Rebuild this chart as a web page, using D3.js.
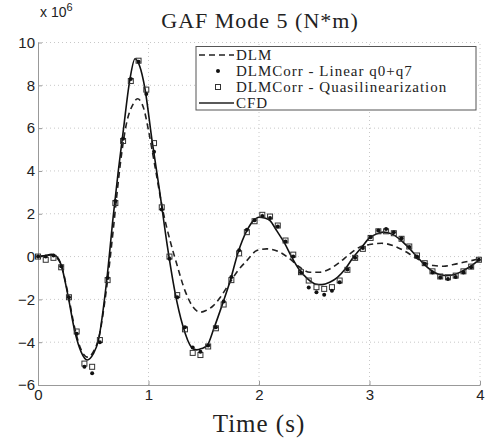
<!DOCTYPE html>
<html>
<head>
<meta charset="utf-8">
<script src="https://cdn.jsdelivr.net/npm/d3@7"></script>
<style>
  html, body { margin: 0; padding: 0; background: #fff; }
  svg { display: block; }
  .tick text { font-family: "Liberation Sans", Arial, sans-serif; font-size: 15px; fill: #222; }
  .serif { font-family: "Liberation Serif", "DejaVu Serif", serif; fill: #222; }
</style>
</head>
<body>
<svg id="chart" width="487" height="441"></svg>
<script>
// CFD reference (time s, moment 1e6 N*m)
const cfdT = [0, 0.07, 0.12, 0.17, 0.21, 0.27, 0.335, 0.39, 0.446, 0.5, 0.546, 0.62, 0.68, 0.727, 0.77, 0.83, 0.878, 0.92, 0.968, 1.03,
  1.10, 1.17, 1.24, 1.31, 1.39, 1.435, 1.48, 1.53, 1.59, 1.67, 1.74, 1.81, 1.89, 1.95, 2.0, 2.05, 2.1, 2.16, 2.235, 2.296,
  2.365, 2.44, 2.51, 2.57, 2.64, 2.71, 2.78, 2.85, 2.93, 3.0, 3.065, 3.125, 3.2, 3.28, 3.35, 3.42, 3.49, 3.56, 3.63, 3.70,
  3.77, 3.85, 3.91, 4.0];
const cfdV = [0, 0.05, 0.1, 0.0, -0.4, -1.79, -3.54, -4.45, -4.83, -4.55, -3.93, -1.2, 1.84, 4.02, 5.8, 8.22, 9.24, 8.9, 7.84, 5.5,
  3.08, 0.51, -1.67, -3.22, -4.24, -4.36, -4.3, -4.16, -3.38, -2.21, -1.12, 0.18, 1.21, 1.68, 1.84, 1.80, 1.68, 1.21, 0.59, -0.03,
  -0.62, -1.04, -1.28, -1.31, -1.2, -0.97, -0.58, -0.06, 0.44, 0.87, 1.06, 1.14, 1.06, 0.78, 0.44, 0.05, -0.34, -0.65, -0.84, -0.89,
  -0.84, -0.65, -0.47, -0.12];

// DLM
const dlmT = [0, 0.07, 0.12, 0.17, 0.21, 0.27, 0.335, 0.39, 0.45, 0.5, 0.55, 0.62, 0.68, 0.712, 0.742, 0.8, 0.862, 0.9, 0.953, 1.0,
  1.06, 1.13, 1.195, 1.255, 1.33, 1.405, 1.466, 1.52, 1.587, 1.65, 1.72, 1.81, 1.89, 1.98, 2.07, 2.19, 2.28, 2.37, 2.46, 2.55,
  2.64, 2.73, 2.82, 2.91, 3.0, 3.11, 3.215, 3.31, 3.4, 3.49, 3.58, 3.67, 3.76, 3.85, 4.0];
const dlmV = [0, 0.05, 0.08, -0.05, -0.4, -1.7, -3.4, -4.35, -4.7, -4.45, -3.8, -1.5, 1.2, 2.8, 4.2, 6.2, 7.13, 7.37, 6.98, 5.89,
  4.17, 2.15, 0.75, -0.34, -1.59, -2.37, -2.6, -2.52, -2.29, -1.9, -1.35, -0.65, -0.19, 0.28, 0.36, 0.2, -0.11, -0.5, -0.73, -0.73,
  -0.58, -0.27, 0.12, 0.44, 0.56, 0.62, 0.51, 0.28, 0.0, -0.27, -0.42, -0.45, -0.37, -0.27, -0.1];

// corrected DLM samples, every 0.07 s
const sampleT = [0, 0.07, 0.14, 0.21, 0.28, 0.35, 0.42, 0.49, 0.56, 0.63, 0.70, 0.77, 0.84, 0.91, 0.98, 1.05, 1.12, 1.19, 1.26, 1.33,
  1.40, 1.47, 1.54, 1.61, 1.68, 1.75, 1.82, 1.89, 1.96, 2.03, 2.10, 2.17, 2.24, 2.31, 2.38, 2.45, 2.52, 2.59, 2.66, 2.73,
  2.80, 2.87, 2.94, 3.01, 3.08, 3.15, 3.22, 3.29, 3.36, 3.43, 3.50, 3.57, 3.64, 3.71, 3.78, 3.85, 3.92, 3.99];
const linearV = [0, 0.0, 0.05, -0.45, -1.9, -3.6, -5.15, -5.45, -4.0, -1.0, 2.6, 5.5, 8.3, 9.1, 7.6, 4.9, 2.2, -0.1, -1.9, -3.3,
  -4.25, -4.45, -4.15, -3.3, -2.1, -0.95, 0.3, 1.25, 1.7, 1.9, 1.8, 1.4, 0.7, 0.0, -0.75, -1.45, -1.67, -1.78, -1.6, -1.2,
  -0.6, -0.05, 0.4, 0.9, 1.22, 1.29, 1.14, 0.85, 0.45, 0.0, -0.35, -0.75, -0.98, -1.05, -0.95, -0.75, -0.5, -0.15];
const quasiV = [0, -0.15, -0.06, -0.5, -1.9, -3.5, -5.0, -5.15, -3.9, -1.1, 2.5, 5.4, 8.2, 9.15, 7.8, 5.3, 2.3, 0.0, -1.8, -3.4,
  -4.5, -4.6, -4.2, -3.35, -2.24, -1.1, 0.15, 1.14, 1.65, 1.95, 1.87, 1.45, 0.75, 0.09, -0.73, -1.12, -1.43, -1.51, -1.43, -1.12,
  -0.62, -0.06, 0.36, 0.87, 1.18, 1.18, 1.09, 0.83, 0.47, 0.05, -0.31, -0.69, -0.93, -0.97, -0.89, -0.69, -0.47, -0.15];

const xTicks = [0, 1, 2, 3, 4];
const yTicks = [-6, -4, -2, 0, 2, 4, 6, 8, 10];
const legendLabels = ["DLM", "DLMCorr - Linear q0+q7", "DLMCorr - Quasilinearization", "CFD"];

const svg = d3.select('#chart');
const m = { left: 38, right: 7, top: 42.5, bottom: 56 };
const W = 487, H = 441;

const x = d3.scaleLinear().domain([0, 4]).range([m.left, W - m.right]);
const y = d3.scaleLinear().domain([-6, 10]).range([H - m.bottom, m.top]);

// grid
const grid = svg.append('g').attr('stroke', '#c8c8c8').attr('stroke-dasharray', '1,3').attr('stroke-width', 1);
xTicks.slice(1).forEach(t => grid.append('line').attr('x1', x(t)).attr('x2', x(t)).attr('y1', y(-6)).attr('y2', y(10)));
yTicks.slice(1).forEach(t => grid.append('line').attr('x1', x(0)).attr('x2', x(4)).attr('y1', y(t)).attr('y2', y(t)));

// axes
const xAxis = svg.append('g').attr('transform', `translate(0,${y(-6)})`)
  .call(d3.axisBottom(x).tickValues(xTicks).tickSizeInner(-4).tickSizeOuter(0).tickPadding(7).tickFormat(d3.format('d')));
const yAxis = svg.append('g').attr('transform', `translate(${x(0)},0)`)
  .call(d3.axisLeft(y).tickValues(yTicks).tickSizeInner(-4).tickSizeOuter(0).tickPadding(3).tickFormat(d => d < 0 ? '\u2212' + Math.abs(d) : d));
[xAxis, yAxis].forEach(a => {
  a.select('.domain').attr('stroke', '#999');
  a.selectAll('.tick line').attr('stroke', '#999');
});
xAxis.selectAll('.tick text').attr('dy', '0.55em');

svg.append('text').attr('x', 40).attr('y', 17).attr('font-family', '"Liberation Sans", Arial, sans-serif')
  .attr('font-size', 14).attr('fill', '#222')
  .html('x 10<tspan dy="-6" font-size="11">6</tspan>');

// curves
const line = d3.line().x(d => x(d[0])).y(d => y(d[1])).curve(d3.curveMonotoneX);
svg.append('path').datum(dlmT.map((t, i) => [t, dlmV[i]]))
  .attr('d', line).attr('fill', 'none').attr('stroke', '#222').attr('stroke-width', 1.6).attr('stroke-dasharray', '6,4');
svg.append('path').datum(cfdT.map((t, i) => [t, cfdV[i]]))
  .attr('d', line).attr('fill', 'none').attr('stroke', '#111').attr('stroke-width', 1.6);

// markers
svg.append('g').selectAll('rect').data(sampleT.map((t, i) => [t, quasiV[i]])).join('rect')
  .attr('x', d => x(d[0]) - 2.5).attr('y', d => y(d[1]) - 2.5).attr('width', 5).attr('height', 5)
  .attr('fill', 'none').attr('stroke', '#333').attr('stroke-width', 1);
svg.append('g').selectAll('circle').data(sampleT.map((t, i) => [t, linearV[i]])).join('circle')
  .attr('cx', d => x(d[0])).attr('cy', d => y(d[1])).attr('r', 2).attr('fill', '#111');

// title and label
svg.append('text').attr('class', 'serif').attr('x', 260).attr('y', 28).attr('text-anchor', 'middle')
  .attr('font-size', 22).attr('letter-spacing', 1).text('GAF Mode 5 (N*m)');
svg.append('text').attr('class', 'serif').attr('x', 259).attr('y', 432).attr('text-anchor', 'middle')
  .attr('font-size', 25).attr('letter-spacing', 1).text('Time (s)');

// legend
const lg = svg.append('g');
lg.append('rect').attr('x', 196).attr('y', 46.5).attr('width', 280).attr('height', 63.5)
  .attr('fill', '#fff').attr('stroke', '#555').attr('stroke-width', 1);
const rowY = [55, 71, 87, 103];
legendLabels.forEach((lab, i) => {
  const yy = rowY[i];
  if (i === 0) lg.append('line').attr('x1', 199).attr('x2', 234).attr('y1', yy).attr('y2', yy)
    .attr('stroke', '#222').attr('stroke-width', 1.4).attr('stroke-dasharray', '6,4');
  if (i === 3) lg.append('line').attr('x1', 199).attr('x2', 234).attr('y1', yy).attr('y2', yy)
    .attr('stroke', '#222').attr('stroke-width', 1.4);
  if (i === 1) lg.append('circle').attr('cx', 218).attr('cy', yy).attr('r', 2).attr('fill', '#111');
  if (i === 2) lg.append('rect').attr('x', 215.5).attr('y', yy - 2.5).attr('width', 5).attr('height', 5)
    .attr('fill', 'none').attr('stroke', '#333');
  lg.append('text').attr('class', 'serif').attr('x', 236).attr('y', yy + 5).attr('font-size', 15)
    .attr('letter-spacing', 1).text(lab);
});
</script>
</body>
</html>
